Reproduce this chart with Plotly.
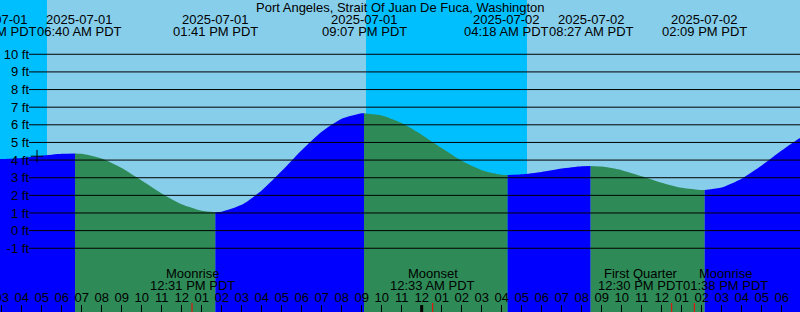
import plotly.graph_objects as go
import pandas as pd

TITLE = "Port Angeles, Strait Of Juan De Fuca, Washington"

# hourly tide heights (ft)
HOUR_TIMES = pd.date_range("2025-07-01 02:00", "2025-07-02 19:00", freq="h")
HOUR_HEIGHTS = [4.07, 4.06, 4.12, 4.25, 4.36, 4.36, 4.09, 3.55, 2.84, 2.11, 1.49, 1.12,
                1.07, 1.46, 2.28, 3.38, 4.56, 5.61, 6.35, 6.66, 6.53, 6.10, 5.44, 4.68,
                3.96, 3.43, 3.17, 3.19, 3.33, 3.52, 3.65, 3.63, 3.43, 3.09, 2.72, 2.43,
                2.30, 2.44, 2.94, 3.69, 4.54, 5.31]

# high / low tide events
TIDE_TIMES = ["2025-07-01 02:54", "2025-07-01 06:40", "2025-07-01 13:41", "2025-07-01 21:07",
              "2025-07-02 04:18", "2025-07-02 08:27", "2025-07-02 14:09", "2025-07-02 21:00"]
TIDE_HEIGHTS = [4.06, 4.38, 1.04, 6.66, 3.15, 3.66, 2.30, 6.05]
TIDE_LABELED = [True, True, True, True, True, True, True, False]

SUNSETS = ["2025-06-30 21:13", "2025-07-01 21:13"]
SUNRISES = ["2025-07-01 05:16", "2025-07-02 05:16"]

MOON_TIMES = ["2025-07-01 12:31", "2025-07-02 00:33", "2025-07-02 12:30", "2025-07-02 13:38"]
MOON_NAMES = ["Moonrise", "Moonset", "First Quarter", "Moonrise"]

DAY_STARTS = ["2025-07-02 00:00"]

NOW_TIME = "2025-07-01 04:46"
NOW_HEIGHT = 4.22

FT_LEVELS = list(range(-1, 11))

X_RANGE = ["2025-07-01 02:55", "2025-07-02 18:55"]
Y_RANGE = [-4.615, 13.078]

W, H = 800, 312
LABEL_W = 85
FONT = "Liberation Sans, Arial, sans-serif"
DAY_BG = "#87CEEB"
NIGHT_BG = "#00BFFF"
RISE = "#0000FF"
FALL = "#2E8B57"

fig = go.Figure()

# merge hourly samples with the extremes
ser = pd.Series(HOUR_HEIGHTS, index=HOUR_TIMES)
ext = pd.Series(TIDE_HEIGHTS, index=pd.to_datetime(TIDE_TIMES))
allpts = pd.concat([ser, ext]).sort_index()
allpts = allpts[~allpts.index.duplicated(keep="last")]

bounds = [allpts.index[0]] + list(ext.index)
for a, b in zip(bounds[:-1], bounds[1:]):
    seg = allpts[(allpts.index >= a) & (allpts.index <= b)]
    if len(seg) < 2:
        continue
    color = RISE if seg.iloc[-1] > seg.iloc[0] else FALL
    fig.add_trace(go.Scatter(x=seg.index, y=[Y_RANGE[0]] * len(seg), mode="lines",
                             line=dict(width=0, color=color), showlegend=False, hoverinfo="skip"))
    fig.add_trace(go.Scatter(x=seg.index, y=seg.values, mode="lines",
                             line=dict(width=0, color=color, shape="spline", smoothing=0.6),
                             fill="tonexty", fillcolor=color, showlegend=False, hoverinfo="skip"))

# now marker
fig.add_trace(go.Scatter(x=[NOW_TIME], y=[NOW_HEIGHT], mode="markers",
                         marker=dict(symbol="cross-thin", size=9, line=dict(width=1, color="black")),
                         showlegend=False, hoverinfo="skip"))

shapes = []
for s, r in zip(SUNSETS, SUNRISES):
    shapes.append(dict(type="rect", xref="x", yref="paper", x0=s, x1=r, y0=0, y1=1,
                       fillcolor=NIGHT_BG, line=dict(width=0), layer="below"))
for lv in FT_LEVELS:
    shapes.append(dict(type="line", xref="paper", yref="y", x0=29 / W, x1=1, y0=lv, y1=lv,
                       line=dict(color="black", width=1), layer="above"))
for d in DAY_STARTS:
    shapes.append(dict(type="line", xref="x", yref="paper", x0=d, x1=d, y0=0, y1=7 / H,
                       line=dict(color="black", width=3), layer="above"))
for m in MOON_TIMES:
    shapes.append(dict(type="line", xref="x", yref="paper", x0=m, x1=m, y0=0, y1=9 / H,
                       line=dict(color="red", width=1), layer="above"))

x0 = pd.Timestamp(X_RANGE[0])
x1 = pd.Timestamp(X_RANGE[1])


def xpx(t):
    return (pd.Timestamp(t) - x0) / (x1 - x0) * W


def spread(centers, w):
    c = list(centers)
    for i in range(len(c) - 1):
        d = c[i + 1] - c[i]
        if d < w:
            s = (w - d) / 2
            c[i] -= s
            c[i + 1] += s
    return c


def ypaper(px):
    return 1 - px / H


ann = []
tf = dict(family=FONT, size=13, color="black")
ann.append(dict(text=TITLE, xref="paper", yref="paper", x=0.5, y=ypaper(7.5),
                xanchor="center", yanchor="middle", showarrow=False, font=tf))

tl = [pd.Timestamp(t) for t, lab in zip(TIDE_TIMES, TIDE_LABELED) if lab]
tc = spread([xpx(t) for t in tl], LABEL_W)
for ts, c in zip(tl, tc):
    ann.append(dict(text=ts.strftime("%Y-%m-%d"), xref="paper", yref="paper", x=c / W,
                    y=ypaper(19.7), xanchor="center", yanchor="middle", showarrow=False, font=tf))
    ann.append(dict(text=ts.strftime("%I:%M %p PDT"), xref="paper", yref="paper", x=c / W,
                    y=ypaper(31.7), xanchor="center", yanchor="middle", showarrow=False, font=tf))

ml = [pd.Timestamp(t) for t in MOON_TIMES]
mc = spread([xpx(t) for t in ml], LABEL_W)
for ts, name, c in zip(ml, MOON_NAMES, mc):
    ann.append(dict(text=name, xref="paper", yref="paper", x=c / W,
                    y=ypaper(273.8), xanchor="center", yanchor="middle", showarrow=False, font=tf))
    ann.append(dict(text=ts.strftime("%I:%M %p PDT"), xref="paper", yref="paper", x=c / W,
                    y=ypaper(285.8), xanchor="center", yanchor="middle", showarrow=False, font=tf))

fig.update_layout(
    width=W, height=H, margin=dict(l=0, r=0, t=0, b=0, autoexpand=False),
    paper_bgcolor=DAY_BG, plot_bgcolor=DAY_BG,
    showlegend=False, shapes=shapes, annotations=ann,
    xaxis=dict(type="date", range=X_RANGE, showgrid=False, zeroline=False, showline=False,
               tickformat="%I", dtick=3600000, tick0="2025-07-01 00:00",
               ticks="inside", ticklen=7, tickcolor="black", tickwidth=1,
               ticklabelposition="inside", ticklabeloverflow="allow", automargin=False,
               tickfont=tf, fixedrange=True),
    yaxis=dict(range=Y_RANGE, showgrid=False, zeroline=False, showline=False,
               anchor="free", position=29 / W, side="left", automargin=False,
               tickvals=FT_LEVELS, ticktext=[f"{v} ft" for v in FT_LEVELS],
               ticks="", tickfont=tf, fixedrange=True),
)

fig.write_html("out.html")
